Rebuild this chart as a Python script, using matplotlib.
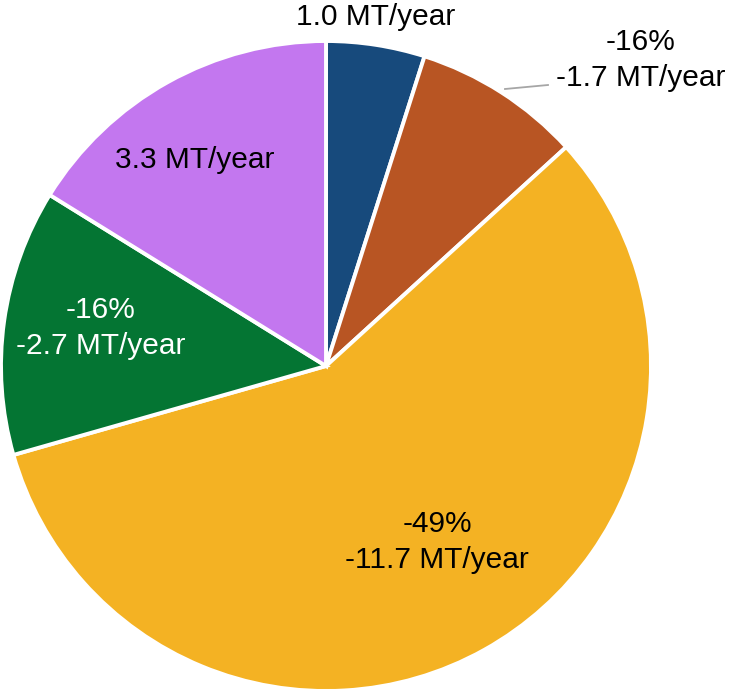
import matplotlib.pyplot as plt

# Slices clockwise from 12 o'clock
sizes = [1.0, 1.7, 11.7, 2.7, 3.3]
colors = ["#174A7C", "#B85523", "#F4B223", "#047533", "#C377EF"]
labels = [
    "1.0 MT/year",
    "-16%\n-1.7 MT/year",
    "-49%\n-11.7 MT/year",
    "-16%\n-2.7 MT/year",
    "3.3 MT/year",
]
label_colors = ["black", "black", "black", "white", "black"]
# label centres in image pixels (x, y from top)
label_pos = [(376, 17), (641, 60), (437, 542), (101, 328), (195, 160)]

W, H = 733, 691
plt.rcParams["font.family"] = ["Liberation Sans", "DejaVu Sans"]

fig = plt.figure(figsize=(W / 100, H / 100), dpi=100)
ax = fig.add_axes([0, 0, 1, 1])

ax.pie(
    sizes,
    colors=colors,
    startangle=90,
    counterclock=False,
    center=(326, H - 366),
    radius=325,
    wedgeprops=dict(edgecolor="white", linewidth=2.8),
)

for text, col, (x, y) in zip(labels, label_colors, label_pos):
    ax.text(x, H - y, text, ha="center", va="center", color=col,
            fontsize=21.5, linespacing=1.35)

# leader line for the small orange slice
ax.plot([505, 548], [H - 89, H - 85], color="#A6A6A6", linewidth=1.3)

ax.set_xlim(0, W)
ax.set_ylim(0, H)
ax.set_aspect("equal")
ax.axis("off")

fig.savefig("out.png", dpi=100)
